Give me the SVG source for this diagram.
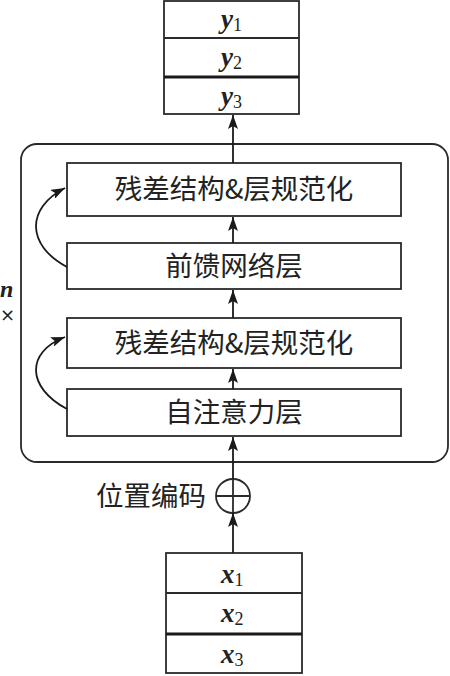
<svg xmlns="http://www.w3.org/2000/svg" width="450" height="676" viewBox="0 0 450 676">
<defs>
<marker id="ah" viewBox="0 0 14 10" refX="14" refY="5" markerWidth="14" markerHeight="10" markerUnits="userSpaceOnUse" orient="auto">
<path d="M0,0 L14,5 L0,10 L3,5 Z" fill="#1a1a1a"/>
</marker>
<style>
.box{fill:#fff;stroke:#2a2a2a;stroke-width:1.8}
.sep{stroke:#2a2a2a;stroke-width:1.8}
.sepb{stroke:#1a1a1a;stroke-width:3}
.cn{font-family:"Noto Sans CJK SC","Noto Sans",sans-serif;font-size:27.5px;fill:#222;text-anchor:middle}
.var{font-family:"Liberation Serif",serif;font-size:27px;font-weight:bold;font-style:italic;fill:#222}
.sub{font-family:"Liberation Serif",serif;font-size:18px;font-weight:normal;font-style:normal;fill:#222}
.ln{fill:none;stroke:#1a1a1a;stroke-width:1.8}
</style>
</defs>
<rect x="0" y="0" width="450" height="676" fill="#fff"/>

<g id="outer">
<rect x="21" y="144" width="427" height="318" rx="16" ry="16" fill="none" stroke="#2a2a2a" stroke-width="1.8"/>
<text x="0" y="297" class="var" style="font-size:24px">n</text>
<text x="0" y="321" style="font-family:'DejaVu Sans',sans-serif;font-size:18px;fill:#222">×</text>
</g>

<g id="ybox">
<rect x="164" y="1" width="135" height="113" class="box"/>
<line x1="164" y1="38" x2="299" y2="38" class="sep"/>
<line x1="164" y1="77" x2="299" y2="77" class="sepb"/>
<text x="221" y="28" class="var">y<tspan class="sub" dy="3">1</tspan></text>
<text x="221" y="66" class="var">y<tspan class="sub" dy="3">2</tspan></text>
<text x="221" y="105" class="var">y<tspan class="sub" dy="3">3</tspan></text>
</g>

<g id="norm2">
<rect x="67" y="163" width="334" height="53" class="box"/>
<text x="234" y="199" class="cn">残差结构&amp;层规范化</text>
</g>

<g id="ffn">
<rect x="67" y="243" width="334" height="46" class="box"/>
<text x="234" y="275.5" class="cn">前馈网络层</text>
</g>

<g id="norm1">
<rect x="67" y="318" width="334" height="50" class="box"/>
<text x="234" y="352.5" class="cn">残差结构&amp;层规范化</text>
</g>

<g id="attn">
<rect x="67" y="389" width="334" height="47" class="box"/>
<text x="234" y="422" class="cn">自注意力层</text>
</g>

<g id="pos">
<circle cx="233" cy="496" r="17" fill="#fff" stroke="#2a2a2a" stroke-width="1.8"/>
<line x1="216" y1="496" x2="250" y2="496" class="sep"/>
<line x1="233" y1="479" x2="233" y2="513" class="sep"/>
<text x="151" y="506" class="cn">位置编码</text>
</g>

<g id="xbox">
<rect x="166" y="553" width="136" height="120" class="box"/>
<line x1="166" y1="593" x2="302" y2="593" class="sep"/>
<line x1="166" y1="634" x2="302" y2="634" class="sepb"/>
<text x="221" y="583" class="var">x<tspan class="sub" dy="3">1</tspan></text>
<text x="221" y="622" class="var">x<tspan class="sub" dy="3">2</tspan></text>
<text x="221" y="663" class="var">x<tspan class="sub" dy="3">3</tspan></text>
</g>

<g id="connectors">
<line x1="233" y1="163" x2="233" y2="115" class="ln" marker-end="url(#ah)"/>
<line x1="233" y1="243" x2="233" y2="217" class="ln" marker-end="url(#ah)"/>
<line x1="233" y1="318" x2="233" y2="290" class="ln" marker-end="url(#ah)"/>
<line x1="233" y1="389" x2="233" y2="369" class="ln" marker-end="url(#ah)"/>
<line x1="233" y1="479" x2="233" y2="437" class="ln" marker-end="url(#ah)"/>
<line x1="233" y1="553" x2="233" y2="513" class="ln" marker-end="url(#ah)"/>
<path d="M67,267 C26,245 26,208 65,188" class="ln" marker-end="url(#ah)"/>
<path d="M67,409 C26,387 26,352 65,337" class="ln" marker-end="url(#ah)"/>
</g>
</svg>
